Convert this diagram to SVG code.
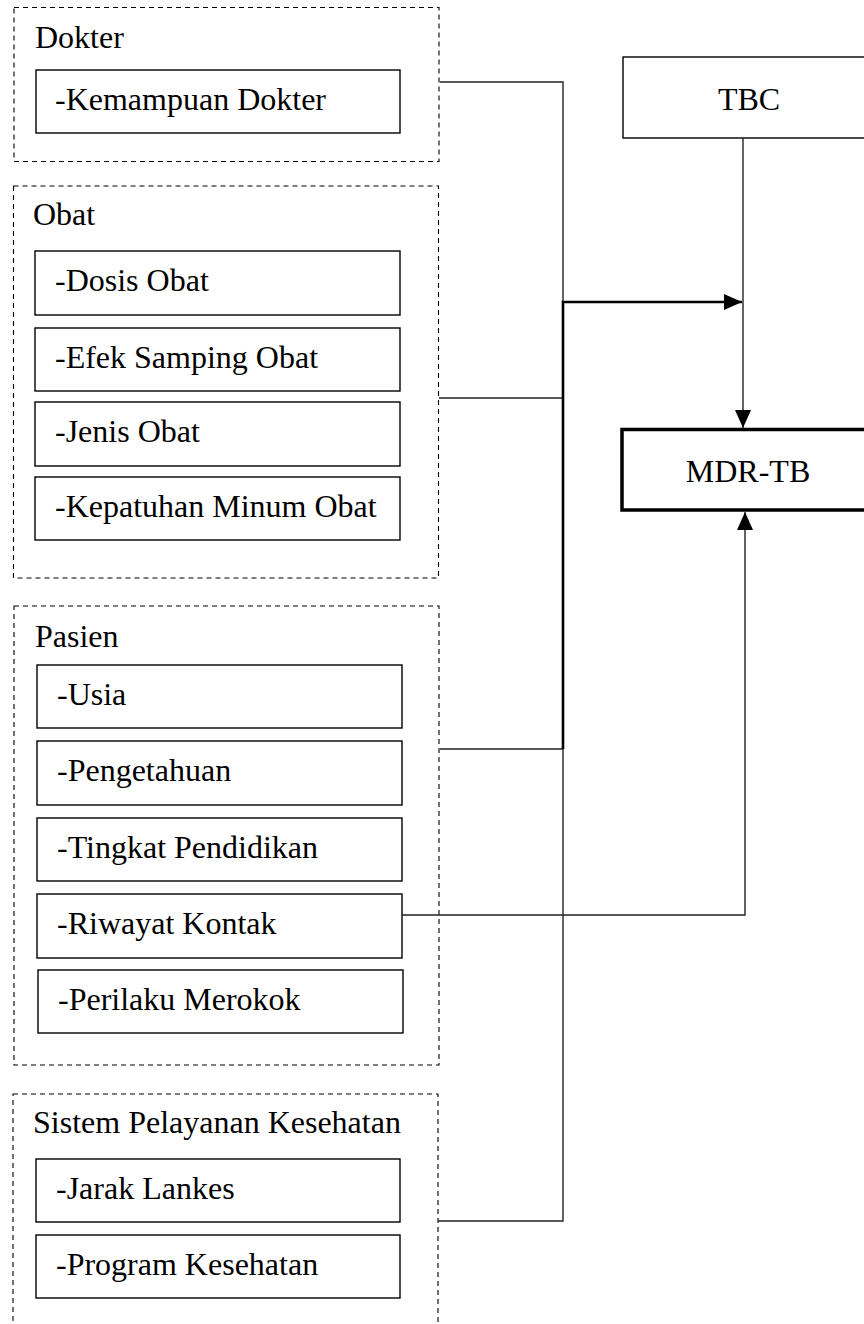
<svg xmlns="http://www.w3.org/2000/svg" width="864" height="1324" viewBox="0 0 864 1324">
<style>
text{font-family:"Liberation Serif","Times New Roman",serif;font-size:32px;fill:#000}
.grp{fill:none;stroke:#000;stroke-width:1.1;stroke-dasharray:5,4}
.item{fill:#fff;stroke:#000;stroke-width:1.4}
.box{fill:#fff;stroke:#000;stroke-width:1.4}
.thick{fill:#fff;stroke:#000;stroke-width:3.5}
.c{fill:none;stroke:#222;stroke-width:1.4}
.ct{fill:none;stroke:#000;stroke-width:2.6}
</style>
<defs>
<marker id="ah" markerUnits="userSpaceOnUse" markerWidth="18" markerHeight="16" viewBox="0 0 18 16" refX="18" refY="8" orient="auto">
<path d="M0,0 L18,8 L0,16 Z" fill="#000"/>
</marker>
</defs>
<rect width="864" height="1324" fill="#fff"/>
<g id="dokter">
<rect class="grp" x="14" y="7.5" width="425" height="154"/>
<text x="35" y="48">Dokter</text>
<rect class="item" x="36" y="70" width="364" height="63"/>
<text x="55" y="110">-Kemampuan Dokter</text>
</g>
<g id="obat">
<rect class="grp" x="13.5" y="186" width="425" height="392"/>
<text x="33" y="225">Obat</text>
<rect class="item" x="35" y="251" width="365" height="64"/>
<text x="55" y="291">-Dosis Obat</text>
<rect class="item" x="35" y="328" width="365" height="63"/>
<text x="55" y="368">-Efek Samping Obat</text>
<rect class="item" x="35" y="402" width="365" height="64"/>
<text x="55" y="442">-Jenis Obat</text>
<rect class="item" x="35" y="477" width="365" height="63"/>
<text x="55" y="517">-Kepatuhan Minum Obat</text>
</g>
<g id="pasien">
<rect class="grp" x="14" y="606" width="425" height="459"/>
<text x="35" y="647">Pasien</text>
<rect class="item" x="37" y="665" width="365" height="63"/>
<text x="57" y="705">-Usia</text>
<rect class="item" x="37" y="741" width="365" height="64"/>
<text x="57" y="781">-Pengetahuan</text>
<rect class="item" x="37" y="818" width="365" height="63"/>
<text x="57" y="858">-Tingkat Pendidikan</text>
<rect class="item" x="37" y="894" width="365" height="64"/>
<text x="57" y="934">-Riwayat Kontak</text>
<rect class="item" x="38" y="970" width="365" height="63"/>
<text x="58" y="1010">-Perilaku Merokok</text>
</g>
<g id="sistem">
<rect class="grp" x="13" y="1094" width="425" height="260"/>
<text x="33" y="1133">Sistem Pelayanan Kesehatan</text>
<rect class="item" x="36" y="1159" width="364" height="63"/>
<text x="56" y="1199">-Jarak Lankes</text>
<rect class="item" x="36" y="1235" width="364" height="63"/>
<text x="56" y="1275">-Program Kesehatan</text>
</g>
<g id="tbc">
<rect class="box" x="623" y="57" width="260" height="81"/>
<text x="749" y="110" text-anchor="middle">TBC</text>
</g>
<g id="mdrtb">
<rect class="thick" x="622" y="429.5" width="260" height="80.5"/>
<text x="748" y="482" text-anchor="middle">MDR-TB</text>
</g>
<g id="connectors">
<polyline class="c" points="440,82 563,82 563,302"/>
<line class="c" x1="439" y1="398" x2="563" y2="398"/>
<polyline class="c" points="440,749 563,749 563,1221 438,1221"/>
<polyline class="ct" points="563,749 563,302 742,302" marker-end="url(#ah)"/>
<line class="c" x1="743" y1="138" x2="743" y2="428" marker-end="url(#ah)"/>
<polyline class="c" points="402,915 745,915 745,512" marker-end="url(#ah)"/>
</g>
</svg>
